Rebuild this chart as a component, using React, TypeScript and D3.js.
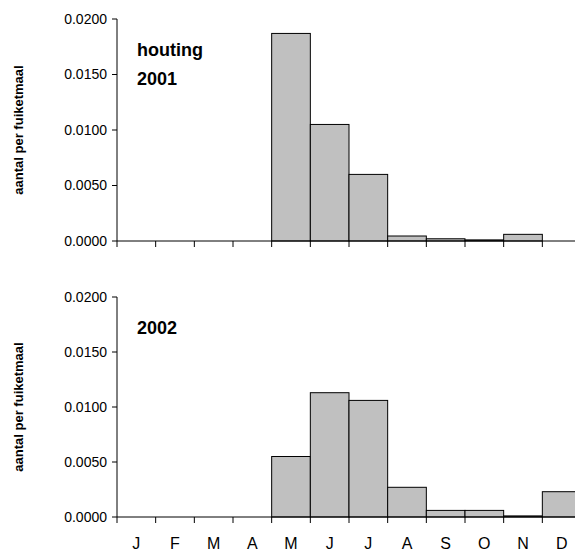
import * as d3 from 'd3';

const months = ['J', 'F', 'M', 'A', 'M', 'J', 'J', 'A', 'S', 'O', 'N', 'D'];
const values2001 = [0, 0, 0, 0, 0.0187, 0.0105, 0.006, 0.00045, 0.0002, 0.0001, 0.0006, 0];
const values2002 = [0, 0, 0, 0, 0.0055, 0.0113, 0.0106, 0.0027, 0.0006, 0.0006, 0.0001, 0.0023];
const yTicks = [0, 0.005, 0.01, 0.015, 0.02];

const x = d3.scaleBand<number>().domain(d3.range(12)).range([117, 581]).padding(0);
const font = 'Liberation Sans, Arial, sans-serif';

function Panel({ values, top, bottom, labels }: { values: number[]; top: number; bottom: number; labels: string[] }) {
  const y = d3.scaleLinear().domain([0, 0.02]).range([bottom, top]);
  return (
    <g>
      {values.map((v, i) => v > 0 && (
        <rect key={i} x={x(i)} y={y(v)} width={x.bandwidth()} height={bottom - y(v)}
          fill="#c0c0c0" stroke="#000" strokeWidth={1} />
      ))}
      <line x1={117} x2={117} y1={top} y2={bottom} stroke="#000" />
      <line x1={117} x2={581} y1={bottom} y2={bottom} stroke="#000" />
      {yTicks.map(t => (
        <g key={t}>
          <line x1={112} x2={117} y1={y(t)} y2={y(t)} stroke="#000" />
          <text x={107} y={y(t)} dy="0.35em" textAnchor="end" fontSize={14} fontFamily={font}>{t.toFixed(4)}</text>
        </g>
      ))}
      {d3.range(13).map(i => {
        const xx = i < 12 ? x(i)! : 581;
        return <line key={i} x1={xx} x2={xx} y1={bottom} y2={bottom + 6} stroke="#000" />;
      })}
      {labels.map((l, i) => (
        <text key={i} x={137} y={top + 37 + i * 29} fontSize={18} fontWeight="bold" fontFamily={font}>{l}</text>
      ))}
      <text transform={`translate(18,${(top + bottom) / 2}) rotate(-90)`} textAnchor="middle" dy="0.35em"
        fontSize={13} fontWeight="bold" fontFamily={font}>aantal per fuiketmaal</text>
    </g>
  );
}

export default function App() {
  return (
    <svg width={575} height={551} style={{ position: 'absolute', left: 0, top: 0, background: '#fff' }}>
      <Panel values={values2001} top={19} bottom={241} labels={['houting', '2001']} />
      <Panel values={values2002} top={297} bottom={517} labels={['2002']} />
      {months.map((m, i) => (
        <text key={i} x={x(i)! + x.bandwidth() / 2} y={549} textAnchor="middle" fontSize={16} fontFamily={font}>{m}</text>
      ))}
    </svg>
  );
}
